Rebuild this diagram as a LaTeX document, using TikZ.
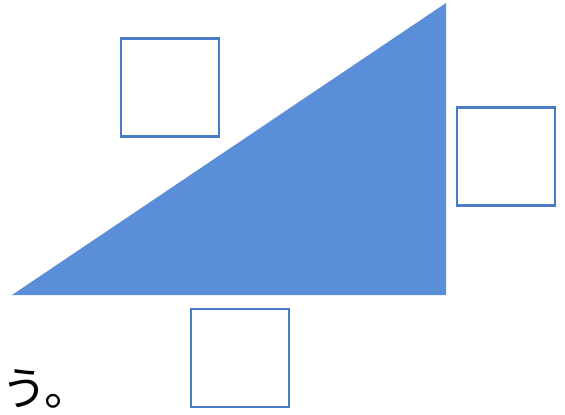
\documentclass[tikz,border=0pt]{standalone}
\usepackage{fontspec}
\newfontfamily\jpfont{Noto Sans CJK JP}
\usetikzlibrary{positioning}
\definecolor{tri}{HTML}{5B8ED8}
\definecolor{frame}{HTML}{4A7BC6}
\tikzset{
  x=1pt,y=-1pt,
  answerbox/.style={draw=frame,line width=2.6pt,fill=white,minimum size=98pt,inner sep=0pt},
  label/.style={font=\jpfont\fontsize{46}{50}\selectfont,inner sep=0pt,anchor=base west},
}
\begin{document}
\begin{tikzpicture}

\useasboundingbox (0,0) rectangle (565,415);

\coordinate (left) at (12,295);
\coordinate (corner) at (446,295);
\coordinate (top) at (446,3);
\fill[tri] (left) -- (corner) -- (top) -- cycle;

\node[answerbox] (boxtop) at (170,87.5) {};
\node[answerbox] (boxright) at (506,156.5) {};
\node[answerbox] (boxbottom) at (240,358) {};

\node[label] (tail) at (1,405) {う。};

\end{tikzpicture}
\end{document}
